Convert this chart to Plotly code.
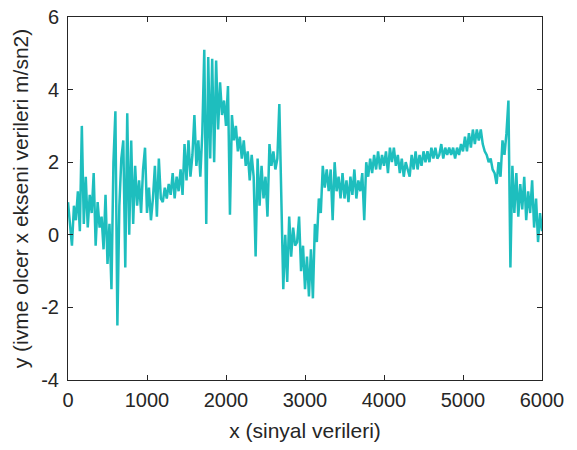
import plotly.graph_objects as go

x_step = 25
y_values = [
    0.9, 0.2, -0.3, 0.8,
    0.4, 1.2, 0.1, 3.0,
    0.3, 1.6, 0.2, 1.1,
    0.6, 1.7, -0.3, 0.9,
    0.2, 0.5, -0.4, 1.1,
    -0.8, 0.3, -1.5, 2.0,
    3.4, -2.5, 0.8, 2.1,
    2.6, -0.9, 3.35, 0.0,
    2.6, 0.3, 1.9, 0.8,
    1.5, 0.6, 1.8, 2.4,
    0.6, 1.3, 0.4, 1.0,
    1.9, 0.5, 2.1, 1.0,
    0.9, 1.3, 1.0, 1.4,
    1.1, 1.7, 1.0, 1.6,
    1.2, 1.8, 1.1, 2.5,
    1.5, 2.6, 1.6, 2.2,
    3.3, 1.9, 2.6, 1.6,
    2.8, 5.1, 0.3, 4.9,
    2.1, 4.85, 2.0, 4.8,
    2.9, 4.2, 3.3, 3.7,
    3.0, 4.1, 0.55, 3.3,
    2.6, 3.0, 2.3, 2.7,
    2.1, 2.6, 1.9, 2.3,
    1.5, 2.2, 1.6, -0.6,
    2.1, 0.8, 1.9, 1.0,
    1.6, 0.5, 2.5, 1.9,
    2.3, 1.8, 2.1, 3.6,
    1.0, -1.5, 0.0, -1.3,
    0.5, -0.6, 0.2, -0.3,
    -0.2, 0.5, -1.0, -0.3,
    -1.5, -0.6, -1.7, -0.4,
    -1.75, 0.3, -0.2, 1.0,
    0.6, 1.9, 1.3, 1.8,
    1.2, 1.8, 0.4, 2.0,
    1.2, 1.6, 1.0, 1.7,
    1.0, 1.5, 0.9, 1.6,
    1.1, 1.8, 1.0, 1.5,
    1.2, 1.7, 0.4, 2.0,
    1.6, 2.1, 1.7, 2.2,
    1.8, 2.3, 1.8, 2.2,
    1.9, 2.3, 1.7, 2.4,
    2.0, 2.4, 1.9, 2.2,
    1.7, 2.1, 1.6, 2.0,
    1.8, 1.6, 2.2, 1.8,
    2.3, 1.8, 2.2, 1.9,
    2.3, 2.0, 2.3, 2.0,
    2.4, 2.1, 2.4, 2.1,
    2.2, 2.5, 2.1, 2.4,
    2.2, 2.4, 2.2, 2.4,
    2.1, 2.4, 2.2, 2.5,
    2.3, 2.7, 2.3, 2.8,
    2.4, 2.9, 2.5, 2.9,
    2.6, 2.9, 2.5, 2.3,
    2.2, 2.0, 2.1, 1.8,
    1.7, 1.4, 2.0, 1.6,
    2.6, 2.2, 2.8, 3.7,
    -0.9, 1.9, 0.6, 1.7,
    0.5, 1.4, 0.7, 1.6,
    0.4, 1.2, 0.6, 1.5,
    0.2, 1.0, -0.2, 0.6,
    0.1,
]
x_values = [i * x_step for i in range(len(y_values))]

x_ticks = [0, 1000, 2000, 3000, 4000, 5000, 6000]
x_tick_labels = ["0", "1000", "2000", "3000", "4000", "5000", "6000"]
y_ticks = [-4, -2, 0, 2, 4, 6]
y_tick_labels = ["-4", "-2", "0", "2", "4", "6"]
x_title = "x (sinyal verileri)"
y_title = "y (ivme olcer x ekseni verileri m/sn2)"

font_family = "Liberation Sans, Arial, Helvetica"
fig = go.Figure()
fig.add_trace(go.Scatter(
    x=x_values, y=y_values, mode="lines",
    line=dict(color="rgb(30,190,190)", width=2.5),
    showlegend=False,
))

axis_common = dict(
    showgrid=False, zeroline=False, showline=True, mirror="ticks",
    linecolor="#262626", linewidth=1, ticks="inside", ticklen=5,
    tickcolor="#262626", automargin=False,
    tickfont=dict(family=font_family, size=20, color="#262626"),
)
fig.update_xaxes(range=[0, 6000], tickvals=x_ticks, ticktext=x_tick_labels, ticklabelstandoff=2,
                 title=dict(text=x_title, font=dict(family=font_family, size=21, color="#262626"), standoff=13),
                 **axis_common)
fig.update_yaxes(range=[-4, 6], tickvals=y_ticks, ticktext=y_tick_labels, ticklabelstandoff=4,
                 title=dict(text=y_title, font=dict(family=font_family, size=21, color="#262626"), standoff=6),
                 **axis_common)

fig.update_layout(
    width=577, height=450,
    margin=dict(l=68, r=35, t=17, b=70),
    plot_bgcolor="white", paper_bgcolor="white",
)
fig.write_html("out.html", config={"displayModeBar": False},
               post_script="document.body.style.margin='0';")
